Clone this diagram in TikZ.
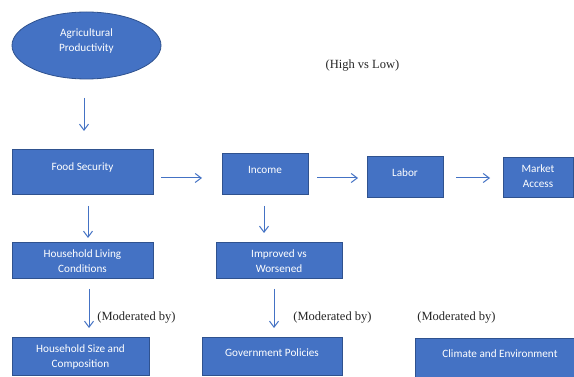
\documentclass[tikz,border=0pt]{standalone}
\usepackage{fontspec}
\setmainfont{Liberation Serif}
\newfontfamily\boxfont{Carlito}
\usetikzlibrary{shapes.geometric,arrows.meta}
\definecolor{officeblue}{HTML}{4472C4}
\definecolor{edgeblue}{HTML}{2F528F}
\tikzset{
  boxshape/.style={draw=edgeblue, line width=0.8pt, fill=officeblue, inner sep=0pt},
  boxtext/.style={text=white, font=\boxfont\fontsize{11.2}{15}\selectfont, align=center, inner sep=0pt},
  flow/.style={draw=officeblue, line width=1pt, -{Straight Barb[length=6pt,width=9pt]}},
  note/.style={font=\fontsize{12.5}{14}\selectfont, text=black!85, inner sep=0pt}
}
\begin{document}
\begin{tikzpicture}[x=1pt,y=-1pt]
\useasboundingbox (0,0) rectangle (574,377);
\fill[white] (0,0) rectangle (574,377);
% ellipse
\node[boxshape, ellipse, minimum width=149pt, minimum height=67pt] (ag) at (86.5,45.5) {};
\node[boxtext] (agt) at (86.5,41) {Agricultural\\Productivity};
% boxes
\node[boxshape, minimum width=141pt, minimum height=45pt] (fs) at (82.5,171.5) {};
\node[boxtext] (fst) at (82.5,167.5) {Food Security};
\node[boxshape, minimum width=86pt, minimum height=41pt] (inc) at (265,173.5) {};
\node[boxtext] (inct) at (265,169.5) {Income};
\node[boxshape, minimum width=76pt, minimum height=41pt] (lab) at (405,176.5) {};
\node[boxtext] (labt) at (405,172.5) {Labor};
\node[boxshape, minimum width=70pt, minimum height=40pt] (mkt) at (538,177) {};
\node[boxtext] (mktt) at (538,176.5) {Market\\Access};
\node[boxshape, minimum width=141pt, minimum height=36pt] (hlc) at (82.5,260) {};
\node[boxtext] (hlct) at (82.5,261.5) {Household Living\\Conditions};
\node[boxshape, minimum width=126pt, minimum height=36pt] (imp) at (279,260) {};
\node[boxtext] (impt) at (279,261.5) {Improved vs\\Worsened};
\node[boxshape, minimum width=137pt, minimum height=38pt] (hsc) at (80.5,356) {};
\node[boxtext] (hsct) at (80.5,357) {Household Size and\\Composition};
\node[boxshape, minimum width=140pt, minimum height=38pt] (gov) at (272,356) {};
\node[boxtext] (govt) at (272,352.5) {Government Policies};
\begin{scope}
\clip (0,0) rectangle (574,377);
\node[boxshape, minimum width=170pt, minimum height=40pt] (clim) at (500,358) {};
\end{scope}
\node[boxtext] (climt) at (500,354) {Climate and Environment};
% notes
\node[note] (hl) at (362.5,66) {(High vs Low)};
\node[note] (m1) at (136.5,318) {(Moderated by)};
\node[note] (m2) at (332.5,318) {(Moderated by)};
\node[note] (m3) at (456.5,318) {(Moderated by)};
% arrow endpoints
\coordinate (a1s) at (84,98);   \coordinate (a1e) at (84,131);
\coordinate (a2s) at (161,178); \coordinate (a2e) at (202,178);
\coordinate (a3s) at (317,178); \coordinate (a3e) at (358,178);
\coordinate (a4s) at (456,178); \coordinate (a4e) at (490,178);
\coordinate (a5s) at (88,206);  \coordinate (a5e) at (88,238);
\coordinate (a6s) at (264,206); \coordinate (a6e) at (264,233);
\coordinate (a7s) at (89,289);  \coordinate (a7e) at (89,328);
\coordinate (a8s) at (274,289); \coordinate (a8e) at (274,328);
\draw[flow] (a1s) -- (a1e);
\draw[flow] (a2s) -- (a2e);
\draw[flow] (a3s) -- (a3e);
\draw[flow] (a4s) -- (a4e);
\draw[flow] (a5s) -- (a5e);
\draw[flow] (a6s) -- (a6e);
\draw[flow] (a7s) -- (a7e);
\draw[flow] (a8s) -- (a8e);
\end{tikzpicture}
\end{document}
